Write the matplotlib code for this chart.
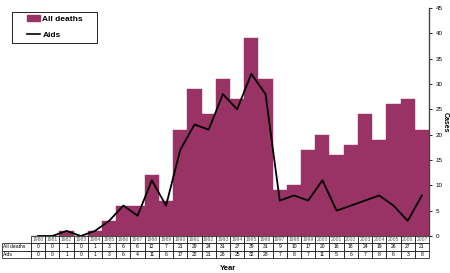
import numpy as np
import matplotlib
matplotlib.use("Agg")
import matplotlib.pyplot as plt
from matplotlib.table import Table
from matplotlib.patches import Patch, Rectangle
from matplotlib.lines import Line2D

years = list(range(1980, 2008))
all_deaths = [0, 0, 1, 0, 1, 3, 6, 6, 12, 7, 21, 29, 24, 31, 27, 39, 31, 9, 10,
              17, 20, 16, 18, 24, 19, 26, 27, 21]
aids = [0, 0, 1, 0, 1, 3, 6, 4, 11, 6, 17, 22, 21, 28, 25, 32, 28, 7, 8, 7, 11,
        5, 6, 7, 8, 6, 3, 8]

bar_color = "#993366"

plt.rcParams["font.family"] = ["Liberation Sans", "DejaVu Sans"]

fig = plt.figure(figsize=(4.5, 2.73), dpi=100)
W, H = 450, 273
x0, x1, ytop, ybot = 31, 429, 8, 236
ax = fig.add_axes([x0 / W, 1 - ybot / H, (x1 - x0) / W, (ybot - ytop) / H])

x = np.arange(len(years))
ax.bar(x, all_deaths, width=1.0, color=bar_color, edgecolor=bar_color,
       linewidth=0.3)
ax.plot(x, aids, color="black", lw=1.3)

ax.set_xlim(-0.5, len(years) - 0.5)
ax.set_ylim(0, 45)
ax.set_yticks(range(0, 46, 5))
ax.yaxis.tick_right()
ax.tick_params(axis="y", labelsize=4.5, length=2, width=0.6, pad=3,
               colors="black")
ax.set_xticks([])
for s in ["top", "left", "bottom"]:
    ax.spines[s].set_visible(False)
ax.spines["right"].set_linewidth(1.0)
ax.spines["right"].set_color("#444444")
fig.text(445 / W, 1 - 122 / H, "Cases", fontsize=5, fontweight="bold",
         rotation=270, ha="center", va="center")

# data table below the plot
lab_w = 29
col_w = (x1 - x0) / len(years)
row_h = 22 / 3
tbl = Table(ax, bbox=[-lab_w / (x1 - x0), -22 / (ybot - ytop),
                      (lab_w + x1 - x0) / (x1 - x0), 22 / (ybot - ytop)])
rows = [["All deaths", all_deaths], ["Aids", aids]]
for j, yr in enumerate(years):
    c = tbl.add_cell(0, j + 1, col_w, row_h, text=str(yr), loc="center")
    c.get_text().set_color("#555555")
c = tbl.add_cell(0, 0, lab_w, row_h, text="")
c.visible_edges = ""
for i, (name, vals) in enumerate(rows):
    tbl.add_cell(i + 1, 0, lab_w, row_h, text=name, loc="left")
    for j, v in enumerate(vals):
        tbl.add_cell(i + 1, j + 1, col_w, row_h, text=str(v), loc="center")
tbl.auto_set_font_size(False)
tbl.set_fontsize(3.6)
for cell in tbl.get_celld().values():
    cell.set_linewidth(0.5)
    cell.PAD = 0.05
ax.add_table(tbl)

fig.text(228 / W, 1 - 268 / H, "Year", fontsize=5.5, fontweight="bold",
         ha="center", va="center")

# legend: frame drawn separately so it can be wider than its contents
fig.patches.append(Rectangle((12 / W, 1 - 43 / H), 85 / W, 31 / H,
                             transform=fig.transFigure, fill=False,
                             edgecolor="black", lw=0.6))
handles = [Patch(facecolor=bar_color, edgecolor=bar_color, label="All deaths"),
           Line2D([], [], color="black", lw=1.2, label="Aids")]
leg = fig.legend(handles=handles, loc="upper left",
                 bbox_to_anchor=(27 / W, 1 - 15 / H),
                 fontsize=6.0, frameon=False, borderpad=0,
                 handlelength=1.6, handleheight=0.75, handletextpad=0.25,
                 labelspacing=0.95, borderaxespad=0)
for t in leg.get_texts():
    t.set_fontweight("bold")

fig.savefig("out.png", dpi=100)
